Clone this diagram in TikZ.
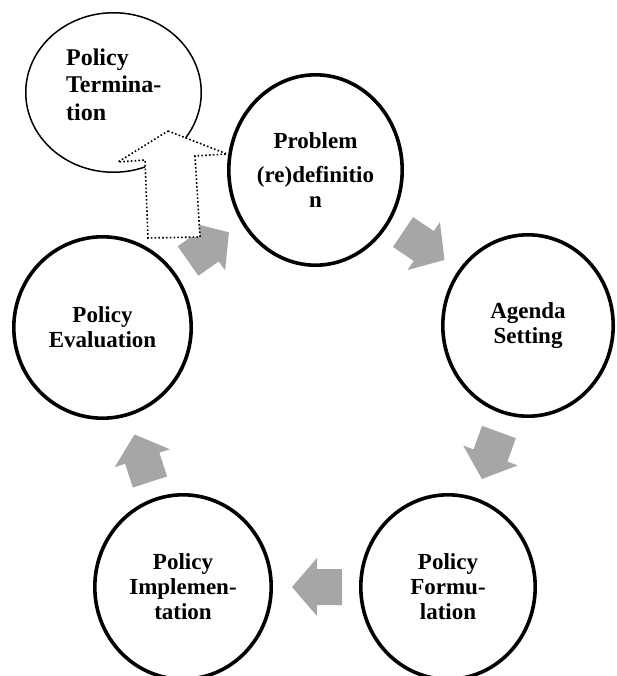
\documentclass[tikz,border=0pt]{standalone}
\usepackage{fontspec}
\setmainfont{Liberation Serif}
\usetikzlibrary{shapes.geometric}
\definecolor{arrowgray}{RGB}{166,166,166}
% block arrow: tail centre at (#1,#2), pointing at angle #3
\newcommand\grayarrow[3]{\fill[flowarrow, shift={(#1,#2)}, rotate=#3] (0,18) -- (25,18) -- (25,29) -- (50,0) -- (25,-29) -- (25,-18) -- (0,-18) -- cycle;}
\begin{document}
\begin{tikzpicture}[x=1pt,y=-1pt,
  stage/.style={ellipse, draw=black, line width=3.6pt, fill=white, inner sep=0pt, align=center,
    font=\fontsize{23}{25}\selectfont\bfseries},
  termshape/.style={ellipse, draw=black, line width=1.5pt, fill=white, inner sep=0pt,
    minimum width=175.5pt, minimum height=159.5pt},
  termtext/.style={align=left, inner sep=0pt, font=\fontsize{24}{27.5}\selectfont\bfseries},
  exitarrow/.style={draw=black, fill=white, line width=1.6pt, dash pattern=on 1.6pt off 2.2pt},
  flowarrow/.style={fill=arrowgray}
]
\useasboundingbox (0,0) rectangle (616,676);
\clip (0,0) rectangle (616,676);

% grey flow arrows
\grayarrow{188}{261}{35}
\grayarrow{403}{232}{-34}
\grayarrow{499}{432}{-110}
\grayarrow{342}{587}{180}
\grayarrow{150}{482}{108}

% policy termination
\node[termshape] (term) at (113.5,92.5) {};
\node[termtext] (termlabel) at (113.7,84.3) {Policy\\Termina-\\tion};

% dotted exit arrow
\draw[exitarrow] (168,131) -- (227,154) -- (195,156) -- (200,237) -- (148,238) -- (145,160) -- (118,162) -- cycle;

% stages
\node[stage, minimum width=173.4pt, minimum height=190.4pt] (prob) at (315.5,170) {Problem\\[9pt](re)definitio\\n};
\node[stage, minimum width=170.4pt, minimum height=181.4pt] (agenda) at (528,325.5) {Agenda\\Setting};
\node[stage, minimum width=174.4pt, minimum height=184.4pt] (form) at (448,587) {Policy\\Formu-\\lation};
\node[stage, minimum width=176.4pt, minimum height=184.4pt] (impl) at (183,587) {Policy\\Implemen-\\tation};
\node[stage, minimum width=177.4pt, minimum height=181.4pt] (eval) at (102.5,327.5) {Policy\\Evaluation};
\end{tikzpicture}
\end{document}
